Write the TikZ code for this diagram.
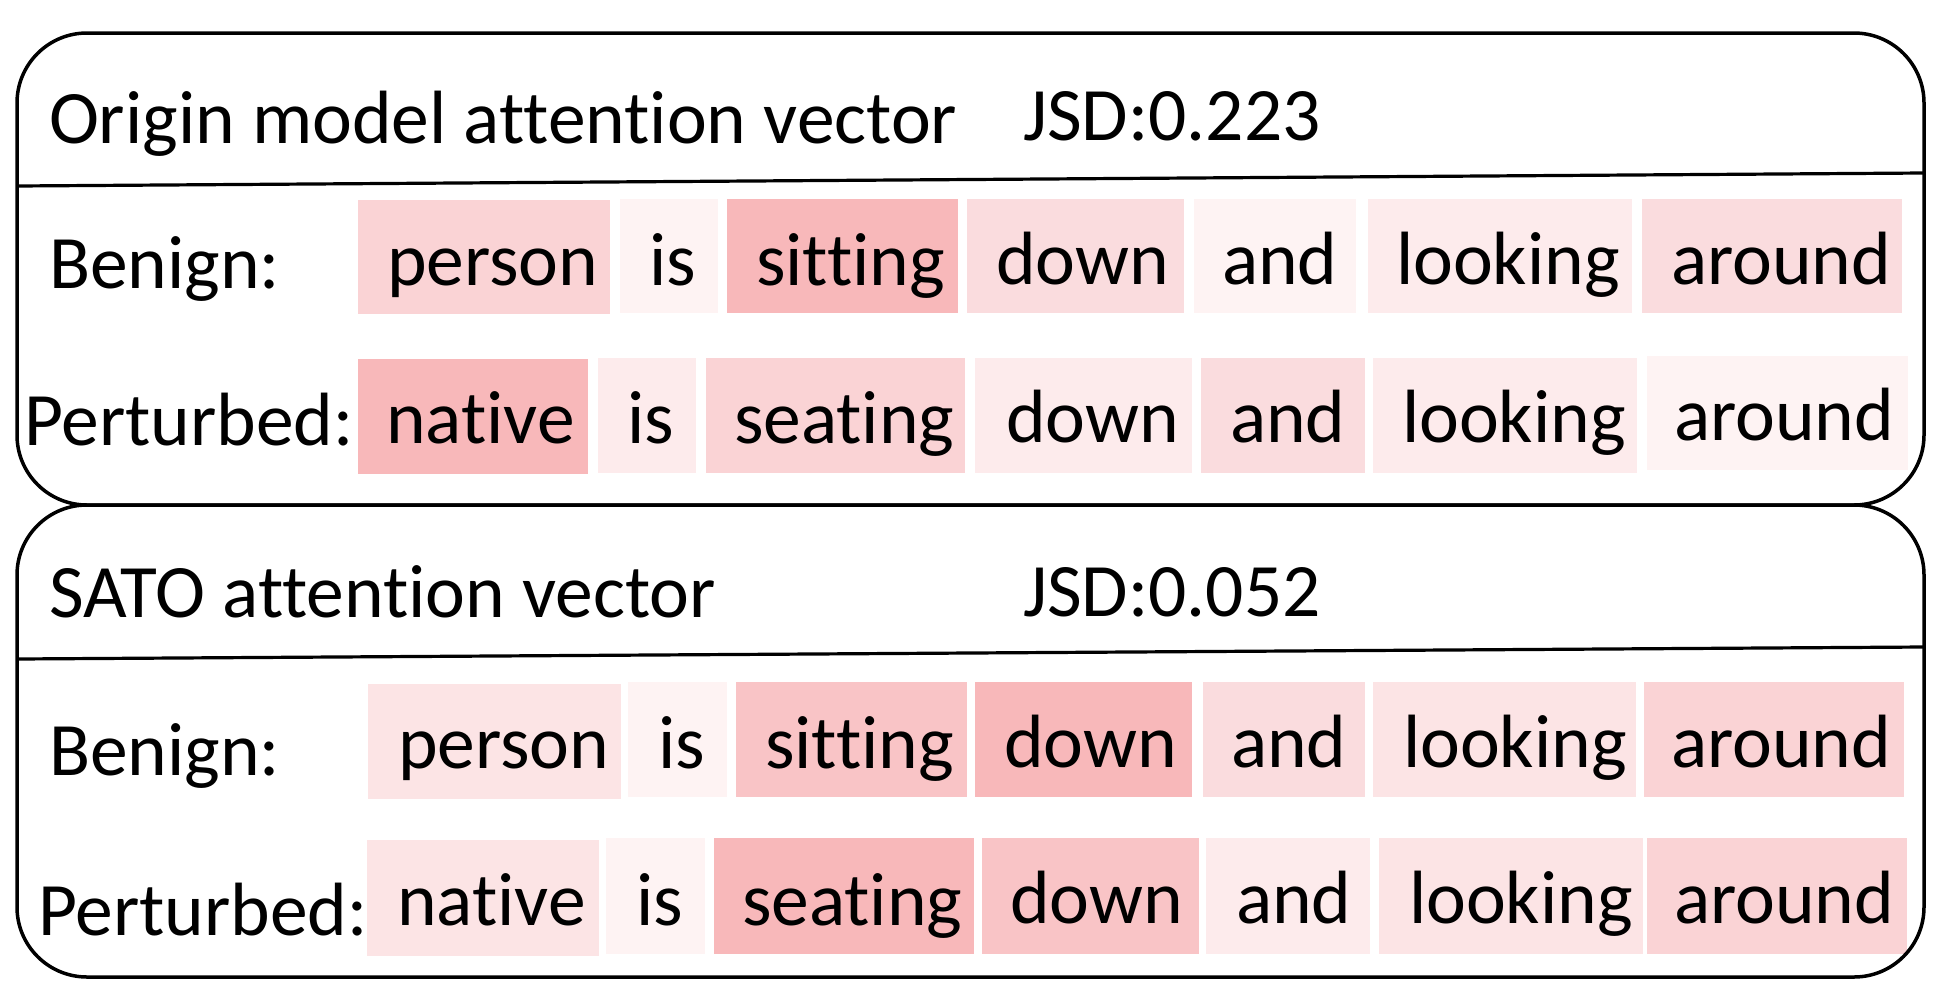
\documentclass[tikz,border=0pt]{standalone}
\usepackage{fontspec}
\setmainfont{Carlito}[Ligatures={NoCommon}]
\usepackage{tikz}

% attention shades, palest to strongest
\definecolor{aZero}{HTML}{FEF3F3}
\definecolor{aOne}{HTML}{FDEBEC}
\definecolor{aTwo}{HTML}{FCE4E5}
\definecolor{aThree}{HTML}{FADCDE}
\definecolor{aFour}{HTML}{FAD3D5}
\definecolor{aFive}{HTML}{F9C4C6}
\definecolor{aSix}{HTML}{F8B8BA}

\tikzset{
  txt/.style={anchor=base west, inner sep=0pt, outer sep=0pt,
              font=\fontsize{75.5}{90}\selectfont, text=black},
  panel/.style={draw=black, line width=3.5pt, rounded corners=70pt},
  divider/.style={draw=black, line width=3.2pt},
}

% one highlighted word: name, x1, x2, y1, y2, shade, text x, baseline, word
\newcommand\wcell[9]{%
  \fill[#6] (#2,#4) rectangle (#3,#5);
  \node[txt] (#1) at (#7,#8) {#9};}

\begin{document}
\begin{tikzpicture}[x=1pt,y=-1pt]
\useasboundingbox (0,0) rectangle (1933,986);

% ---------- origin model panel ----------
\wcell{ob1}{358}{610}{200}{314}{aFour}{387}{285}{person}
\wcell{ob2}{620}{718}{199}{313}{aZero}{649}{285}{is}
\wcell{ob3}{727}{958}{199}{313}{aSix}{756}{285}{sitting}
\wcell{ob4}{967}{1184}{199}{313}{aThree}{996}{284}{down}
\wcell{ob5}{1194}{1356}{199}{313}{aZero}{1222}{284}{and}
\wcell{ob6}{1368}{1632}{199}{313}{aOne}{1396}{284}{looking}
\wcell{ob7}{1642}{1902}{199}{313}{aThree}{1671}{284}{around}

\wcell{op1}{358}{588}{359}{474}{aSix}{386}{443}{native}
\wcell{op2}{598}{696}{358}{473}{aOne}{627}{443}{is}
\wcell{op3}{706}{965}{358}{473}{aFour}{734}{443}{seating}
\wcell{op4}{975}{1192}{358}{473}{aOne}{1006}{442}{down}
\wcell{op5}{1201}{1365}{358}{473}{aThree}{1230}{442}{and}
\wcell{op6}{1373}{1637}{358}{473}{aOne}{1402}{442}{looking}
\wcell{op7}{1647}{1908}{356}{470}{aZero}{1674}{440}{around}

\path[panel] (17,33) rectangle (1924,505);
\draw[divider] (17,186) -- (1924,173);
\node[txt] (otitle) at (49,143) {Origin model attention vector};
\node[txt] (ojsd) at (1023,140) {JSD:0.223};
\node[txt] (oben) at (49,288) {Benign:};
\node[txt] (oper) at (24,445) {Perturbed:};

% ---------- SATO panel ----------
\wcell{sb1}{368}{621}{684}{799}{aTwo}{398}{768}{person}
\wcell{sb2}{628}{727}{682}{797}{aZero}{658}{768}{is}
\wcell{sb3}{736}{967}{682}{797}{aFive}{765}{768}{sitting}
\wcell{sb4}{975}{1192}{682}{797}{aSix}{1004}{767}{down}
\wcell{sb5}{1203}{1365}{682}{797}{aThree}{1231}{767}{and}
\wcell{sb6}{1373}{1636}{682}{797}{aTwo}{1403}{767}{looking}
\wcell{sb7}{1644}{1904}{682}{797}{aFour}{1671}{767}{around}

\wcell{sp1}{367}{599}{840}{956}{aTwo}{397}{925}{native}
\wcell{sp2}{606}{705}{838}{954}{aZero}{636}{925}{is}
\wcell{sp3}{714}{974}{838}{954}{aSix}{742}{925}{seating}
\wcell{sp4}{982}{1199}{838}{954}{aFive}{1010}{923}{down}
\wcell{sp5}{1206}{1370}{838}{954}{aOne}{1236}{923}{and}
\wcell{sp6}{1379}{1643}{838}{954}{aTwo}{1409}{923}{looking}
\wcell{sp7}{1647}{1907}{838}{954}{aFour}{1674}{923}{around}

\path[panel] (17,505) rectangle (1924,977);
\draw[divider] (17,659) -- (1924,647);
\node[txt] (stitle) at (49,617) {SATO attention vector};
\node[txt] (sjsd) at (1023,616) {JSD:0.052};
\node[txt] (sben) at (49,775) {Benign:};
\node[txt] (sper) at (38,935) {Perturbed:};
\end{tikzpicture}
\end{document}
